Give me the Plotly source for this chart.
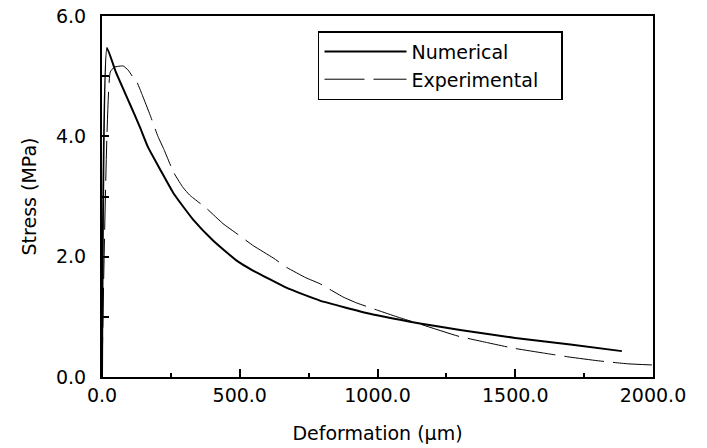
import plotly.graph_objects as go

# Numerical curve (deformation in um, stress in MPa)
num_x = [0, 18, 50, 100, 138, 167, 211, 260, 330, 403, 490, 548, 671, 791,
         973, 1082, 1154, 1300, 1500, 1700, 1887]
num_y = [0, 5.47, 5.07, 4.55, 4.15, 3.82, 3.45, 3.05, 2.62, 2.27, 1.93, 1.77,
         1.48, 1.27, 1.05, 0.95, 0.89, 0.78, 0.65, 0.54, 0.43]

# Experimental curve
exp_x = [0, 30, 45, 77, 95, 110, 127, 145, 175, 203, 225, 260, 294, 319,
         380, 439, 490, 550, 621, 671, 740, 791, 875, 925, 1000, 1071, 1154,
         1292, 1400, 1492, 1600, 1699, 1800, 1906, 1996]
exp_y = [0, 5.07, 5.15, 5.17, 5.1, 5.0, 4.9, 4.7, 4.35, 4.0, 3.78, 3.4,
         3.15, 3.02, 2.8, 2.55, 2.38, 2.18, 1.98, 1.82, 1.65, 1.55, 1.33, 1.23,
         1.11, 1.0, 0.88, 0.68, 0.57, 0.48, 0.4, 0.33, 0.27, 0.22, 0.2]

x_ticks = [0, 500, 1000, 1500, 2000]
x_labels = ["0.0", "500.0", "1000.0", "1500.0", "2000.0"]
y_ticks = [0, 2, 4, 6]
y_labels = ["0.0", "2.0", "4.0", "6.0"]

font = "DejaVu Sans"

fig = go.Figure()
fig.add_trace(go.Scatter(x=num_x, y=num_y, mode="lines", name="Numerical",
                         line=dict(color="black", width=2, shape="spline",
                                   smoothing=0.4)))
fig.add_trace(go.Scatter(x=exp_x, y=exp_y, mode="lines",
                         name="Experimental\u00a0\u00a0\u00a0",
                         line=dict(color="black", width=1, dash="40px,9px",
                                   shape="spline", smoothing=0.4)))

axis_common = dict(
    showgrid=False, zeroline=False, showline=True, linecolor="black",
    linewidth=2, mirror=True, ticks="inside", tickcolor="black",
    automargin=False, ticklabeloverflow="allow",
    tickfont=dict(family=font, size=19, color="black"),
)

fig.update_layout(
    width=707, height=448,
    margin=dict(l=102, r=54, t=16, b=71),
    paper_bgcolor="white", plot_bgcolor="white",
    font=dict(family=font, color="black"),
    xaxis=dict(
        range=[0, 2000], tickvals=x_ticks, ticktext=x_labels,
        ticklen=8, tickwidth=1.5,
        minor=dict(ticks="inside", tickvals=[250, 750, 1250, 1750],
                   ticklen=4, tickwidth=1.5, tickcolor="black"),
        title=dict(text="Deformation (μm)", font=dict(family=font, size=19),
                   standoff=22),
        **axis_common,
    ),
    yaxis=dict(
        range=[0, 6], tickvals=y_ticks, ticktext=y_labels,
        ticklen=7, tickwidth=1.5,
        minor=dict(ticks="inside", tickvals=[1, 3, 5],
                   ticklen=7, tickwidth=1.5, tickcolor="black"),
        ticklabelstandoff=10,
        title=dict(text="Stress (MPa)", font=dict(family=font, size=19),
                   standoff=14),
        **axis_common,
    ),
    legend=dict(
        x=0.392, y=0.958, xanchor="left", yanchor="top",
        bordercolor="black", borderwidth=1.5, bgcolor="white",
        font=dict(family=font, size=19, color="black"),
        itemwidth=82, tracegroupgap=0,
    ),
    showlegend=True,
)

# drop the default page margin so the figure fills the window exactly
fig.write_html("out.html", config={"displayModeBar": False},
               post_script="document.body.style.margin = '0';")
